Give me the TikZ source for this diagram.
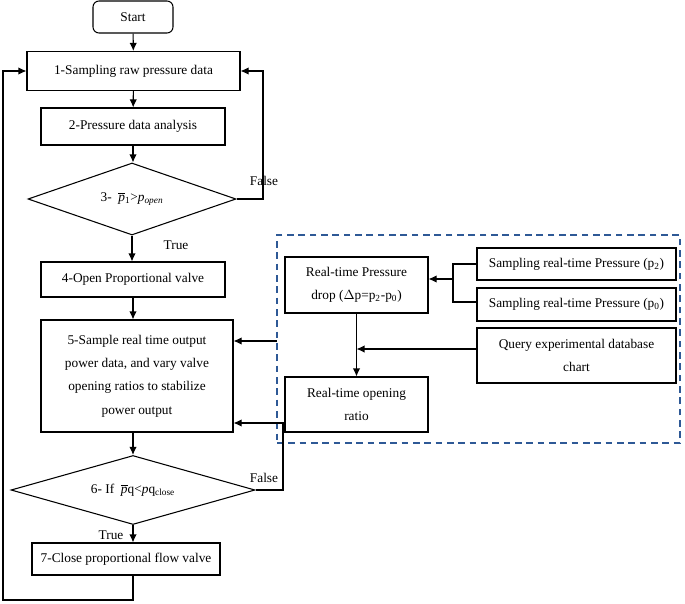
\documentclass[tikz,border=0pt]{standalone}
\usepackage{fontspec}
\setmainfont{Liberation Serif}
\usetikzlibrary{shapes.geometric,arrows.meta}
\usetikzlibrary{positioning}
\definecolor{frameblue}{RGB}{46,89,150}

\begin{document}
\begin{tikzpicture}[x=0.75pt, y=-0.75pt, line width=0.8pt, >={Latex[length=6pt,width=5.5pt]},
	prc/.style={draw,rectangle,align=center,inner sep=2pt,font=\fontsize{10}{17.5}\selectfont},
	trm/.style={prc,rounded corners=4.5pt},
	dec/.style={draw,diamond,inner sep=0pt,font=\fontsize{10}{12}\selectfont},
	dsh/.style={draw=frameblue,line width=1.1pt,dash pattern=on 5pt off 3.5pt},
	lbl/.style={font=\fontsize{10}{12}\selectfont}]
	\useasboundingbox (0,0) rectangle (685,603);
	% left column
	\node[trm, minimum width=60pt, minimum height=24pt] (st) at (133,17) {Start};
	\node[prc, minimum width=159.75pt, minimum height=29.25pt] (s1) at (133.5,71) {1-Sampling raw pressure data};
	\node[prc, minimum width=138pt, minimum height=27.75pt] (s2) at (133,126.5) {2-Pressure data analysis};
	\node[dec, aspect=2.9, minimum width=156pt, minimum height=54pt] (s3) at (132,199)
		{3-\ \ $\overline{\mbox{\textit{p}}}$\textsubscript{1}>\textit{p}\textsubscript{\textit{open}}};
	\node[prc, minimum width=138pt, minimum height=26.25pt] (s4) at (133,279.5) {4-Open Proportional valve};
	\node[prc, minimum width=144pt, minimum height=84pt] (s5) at (137,376)
		{5-Sample real time output\\power data, and vary valve\\opening ratios to stabilize\\power output};
	\node[dec, aspect=3.5, minimum width=183pt, minimum height=51.75pt] (s6) at (133,490)
		{6- If\ \ $\overline{\mbox{\textit{p}}}$q<\textit{p}q\textsubscript{close}};
	\node[prc, minimum width=141pt, minimum height=24pt] (s7) at (126,559) {7-Close proportional flow valve};
	% right group
	\node[dsh, minimum width=302.25pt, minimum height=156pt] (frm) at (478.5,339) {};
	\node[prc, minimum width=107.25pt, minimum height=42pt] (drop) at (356.5,285)
		{Real-time Pressure\\drop ($\Delta$p=p\textsubscript{2}-p\textsubscript{0})};
	\node[prc, minimum width=149.25pt, minimum height=24pt] (sp2) at (576.5,264) {Sampling real-time Pressure (p\textsubscript{2})};
	\node[prc, minimum width=149.25pt, minimum height=24.75pt] (sp0) at (576.5,304.5) {Sampling real-time Pressure (p\textsubscript{0})};
	\node[prc, minimum width=149.25pt, minimum height=41.25pt] (qry) at (576.5,355.5) {Query experimental database\\chart};
	\node[prc, minimum width=107.25pt, minimum height=41.25pt] (rat) at (356.5,404.5) {Real-time opening\\ratio};
	% main flow
	\draw[->] (st) -- (s1);
	\draw[->] (s1) -- (s2);
	\draw[->] (s2.south) -- (s2.south |- s3.north);
	\draw[->] (s3.south) -- (s3.south |- s4.north);
	\draw[->] (s4.south) -- (s4.south |- s5.north);
	\draw[->] (s5.south -| s4.south) -- (s6.north);
	\draw[->] (s6.south) -- (s6.south |- s7.north);
	\coordinate (f3) at (263,199);
	\draw[->] (s3.east) -- (f3) |- (s1.east);
	\node[lbl] (fl3) at (264,181) {False};
	\node[lbl] (tr3) at (176,245) {True};
	\coordinate (f6) at (283,490);
	\coordinate (f6t) at (283,423);
	\draw[->] (s6.east) -- (f6) -- (f6t) -- (f6t -| s5.east);
	\node[lbl] (fl6) at (264,478) {False};
	\node[lbl] (tr6) at (111,535) {True};
	\coordinate (lb) at (133,600);
	\coordinate (lc) at (3,600);
	\draw[->] (s7.south -| lb) -- (lb) -- (lc) |- (s1.west);
	% right connections
	\coordinate (j2) at (453,264);
	\coordinate (j0) at (453,302);
	\coordinate (jm) at (453,279);
	\draw (sp2.west) -- (j2) -- (j0) -- (j0 -| sp0.west);
	\draw[->] (jm) -- (jm -| drop.east);
	\draw[->] (drop.south) -- (rat.north);
	\coordinate (qw) at (477,349);
	\draw[->] (qw) -- (qw -| drop.south);
	\coordinate (fw) at (277,341);
	\draw[->] (fw) -- (fw -| s5.east);
\end{tikzpicture}
\end{document}
